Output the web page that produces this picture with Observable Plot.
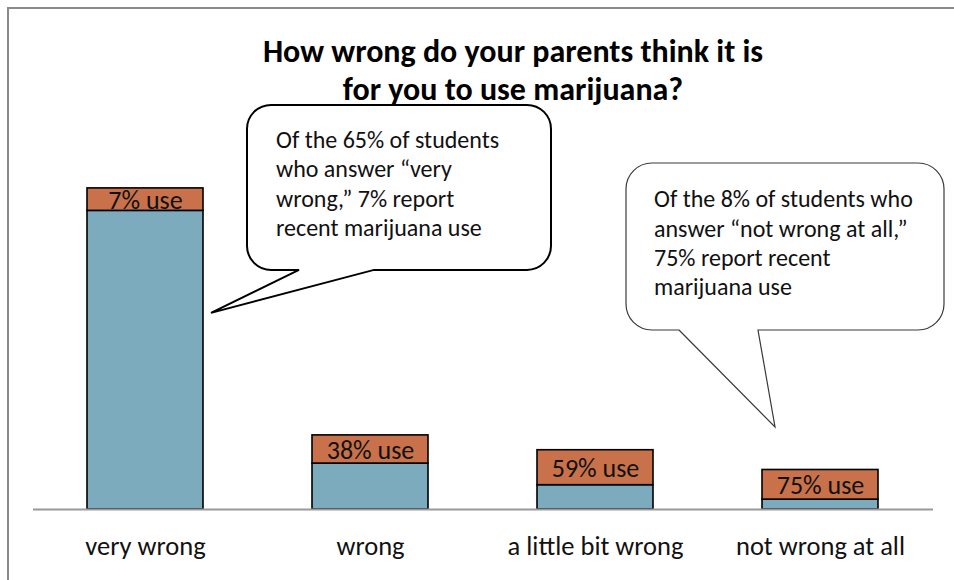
<!DOCTYPE html>
<html>
<head>
<meta charset="utf-8">
<script src="https://cdn.jsdelivr.net/npm/d3@7"></script>
<script src="https://cdn.jsdelivr.net/npm/@observablehq/plot@0.6"></script>
<style>
  html, body { margin: 0; padding: 0; background: #fff; }
  #wrap { position: relative; width: 954px; height: 580px; overflow: hidden; }
  #frame { position: absolute; left: 7px; top: 7px; width: 960px; height: 600px;
           border-left: 2px solid #8a8a8a; border-top: 2px solid #8a8a8a; box-sizing: border-box; }
  #title { position: absolute; left: 0; width: 1026px; top: 33px; text-align: center;
           font-family: Carlito, Calibri, Lato, sans-serif; font-weight: bold; font-size: 32px;
           line-height: 38px; color: #000; }
  #chart { position: absolute; left: 0; top: 0; }
</style>
</head>
<body>
<div id="wrap">
  <div id="frame"></div>
  <div id="chart"></div>
  <div id="title">How wrong do your parents think it is<br>for you to use marijuana?</div>
</div>
<script>
const categories = ["very wrong", "wrong", "a little bit wrong", "not wrong at all"];
const shareOfStudents = [65, 15, 12, 8];   // % of students giving each answer
const pctRecentUse = [7, 38, 59, 75];      // % of those students reporting recent use
const useLabels = ["7% use", "38% use", "59% use", "75% use"];
const callout1Lines = ["Of the 65% of students", "who answer \u201cvery", "wrong,\u201d 7% report", "recent marijuana use"];
const callout2Lines = ["Of the 8% of students who", "answer \u201cnot wrong at all,\u201d", "75% report recent", "marijuana use"];

const FONT = "Carlito, Calibri, Lato, sans-serif";

const rows = categories.map((c, i) => {
  const total = shareOfStudents[i];
  const users = total * pctRecentUse[i] / 100;
  return { cat: c, total, split: total - users, label: useLabels[i] };
});

function bubblePath(L, T, R, B, r, bx1, bx2, tx, ty) {
  // rounded rectangle with a tail leaving the bottom edge between bx1 and bx2
  return [
    `M${bx1},${B}`, `L${tx},${ty}`, `L${bx2},${B}`,
    `L${R - r},${B}`, `A${r},${r} 0 0 0 ${R},${B - r}`,
    `L${R},${T + r}`, `A${r},${r} 0 0 0 ${R - r},${T}`,
    `L${L + r},${T}`, `A${r},${r} 0 0 0 ${L},${T + r}`,
    `L${L},${B - r}`, `A${r},${r} 0 0 0 ${L + r},${B}`, "Z"
  ].join(" ");
}

function callouts(index, scales) {
  const x = scales.x, y = scales.y;
  const bw = x.bandwidth();
  const g = d3.create("svg:g").attr("text-anchor", "start");

  // callout 1 points at the right edge of the "very wrong" bar
  const t1x = x(categories[0]) + bw + 8, t1y = y(39.7);
  const b1 = { L: t1x + 36, T: t1y - 208, R: t1x + 340, B: t1y - 43 };
  g.append("path")
    .attr("d", bubblePath(b1.L, b1.T, b1.R, b1.B, 24, t1x + 88, t1x + 163, t1x, t1y))
    .attr("fill", "#fff").attr("stroke", "#000").attr("stroke-width", 2).attr("stroke-linejoin", "miter");
  const tx1 = g.append("text").attr("font-family", FONT).attr("font-size", 24).attr("fill", "#111").attr("text-anchor", "start");
  callout1Lines.forEach((s, i) => tx1.append("tspan").attr("x", b1.L + 29).attr("y", b1.T + 35 + i * 29.2).attr("dy", "0.35em").text(s));

  // callout 2 points down toward the "not wrong at all" bar
  const t2x = x(categories[3]) + bw / 2 - 45, t2y = y(16.6);
  const b2 = { L: t2x - 149, T: t2y - 264, R: t2x + 169, B: t2y - 97 };
  g.append("path")
    .attr("d", bubblePath(b2.L, b2.T, b2.R, b2.B, 26, t2x - 96, t2x - 17, t2x, t2y))
    .attr("fill", "#fff").attr("stroke", "#3a3a3a").attr("stroke-width", 1.2);
  const tx2 = g.append("text").attr("font-family", FONT).attr("font-size", 24).attr("fill", "#111").attr("text-anchor", "start");
  callout2Lines.forEach((s, i) => tx2.append("tspan").attr("x", b2.L + 28).attr("y", b2.T + 36 + i * 29.2).attr("dy", "0.35em").text(s));
  return g.node();
}

const plot = Plot.plot({
  width: 954,
  height: 580,
  marginLeft: 33,
  marginRight: 21,
  marginTop: 15,
  marginBottom: 71,
  style: { fontFamily: FONT, background: "transparent" },
  x: { domain: categories, paddingInner: 0.484, paddingOuter: 0.242, axis: null },
  y: { domain: [0, 100], axis: null },
  marks: [
    Plot.barY(rows, { x: "cat", y1: 0, y2: "split", fill: "#7BABBD", stroke: "#000", strokeWidth: 1.6 }),
    Plot.barY(rows, { x: "cat", y1: "split", y2: "total", fill: "#C8714A", stroke: "#000", strokeWidth: 1.6 }),
    Plot.ruleY([0], { stroke: "#999", strokeWidth: 2 }),
    Plot.text(rows, { x: "cat", y: d => (d.split + d.total) / 2, text: "label", fontSize: 26, fill: "#111", dy: 1 }),
    Plot.text(categories, { x: d => d, y: 0, text: d => d, fontSize: 26.5, fill: "#111", dy: 37 }),
    callouts
  ]
});
document.getElementById("chart").appendChild(plot);
</script>
</body>
</html>
